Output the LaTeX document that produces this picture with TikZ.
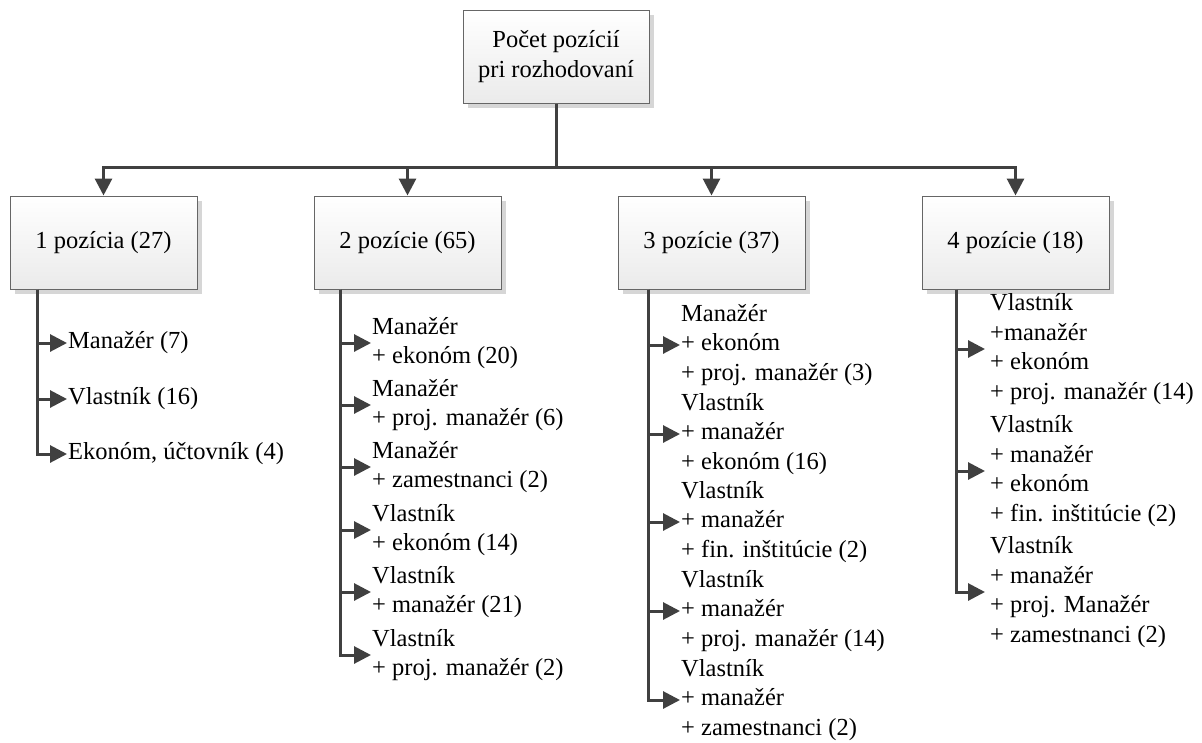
\documentclass[tikz,border=0pt]{standalone}
\usepackage{fontspec}
\setmainfont{Liberation Serif}
\usetikzlibrary{arrows.meta,shadows}
\definecolor{linecol}{HTML}{404040}
\definecolor{boxline}{HTML}{666666}
\definecolor{shadowcol}{HTML}{D6D6D6}
\newcommand\diagfont{\fontsize{24.5}{29.5}\selectfont}
\tikzset{
  box/.style={draw=boxline, line width=1pt, top color=white, bottom color=gray!16,
    minimum width=187pt, minimum height=93pt, align=center, font=\diagfont,
    drop shadow={shadow xshift=4.5pt, shadow yshift=-4.5pt, fill=shadowcol, opacity=1}},
  item/.style={anchor=west, align=left, inner xsep=1pt, inner ysep=0pt, font=\diagfont},
  conn/.style={draw=linecol, line width=3pt, -{Triangle[length=17pt,width=17pt]}},
  plain/.style={draw=linecol, line width=3pt}
}
\begin{document}
\begin{tikzpicture}[x=1pt,y=-1pt]
\useasboundingbox (0,0) rectangle (1202,742);

% root and the four groups
\node[box, minimum width=186pt] (top) at (556,56.5) {Počet pozícií\\pri rozhodovaní};
\node[box] (b1) at (103.5,242.5) {1 pozícia (27)};
\node[box] (b2) at (407.5,242.5) {2 pozície (65)};
\node[box] (b3) at (711.5,242.5) {3 pozície (37)};
\node[box] (b4) at (1015.5,242.5) {4 pozície (18)};

\coordinate (hub) at (556,167);
\draw[plain] (top.south) -- (hub);
\foreach \b in {b1,b2,b3,b4} \draw[conn] (hub) -| (\b.north);

% group 1
\node[item] (c11) at (67,343) {Manažér (7)};
\node[item] (c12) at (67,399) {Vlastník (16)};
\node[item] (c13) at (67,454) {Ekonóm, účtovník (4)};

% group 2
\node[item] (c21) at (371,343) {Manažér\\+ ekonóm (20)};
\node[item] (c22) at (371,405) {Manažér\\+ proj. manažér (6)};
\node[item] (c23) at (371,467) {Manažér\\+ zamestnanci (2)};
\node[item] (c24) at (371,530) {Vlastník\\+ ekonóm (14)};
\node[item] (c25) at (371,592) {Vlastník\\+ manažér (21)};
\node[item] (c26) at (371,655) {Vlastník\\+ proj. manažér (2)};

% group 3
\node[item] (c31) at (680,345) {Manažér\\+ ekonóm\\+ proj. manažér (3)};
\node[item] (c32) at (680,434) {Vlastník\\+ manažér\\+ ekonóm (16)};
\node[item] (c33) at (680,522) {Vlastník\\+ manažér\\+ fin. inštitúcie (2)};
\node[item] (c34) at (680,611) {Vlastník\\+ manažér\\+ proj. manažér (14)};
\node[item] (c35) at (680,700) {Vlastník\\+ manažér\\+ zamestnanci (2)};

% group 4
\node[item, inner xsep=5pt] (c41) at (985,349) {Vlastník\\+manažér\\+ ekonóm\\+ proj. manažér (14)};
\node[item, inner xsep=5pt] (c42) at (985,471) {Vlastník\\+ manažér\\+ ekonóm\\+ fin. inštitúcie (2)};
\node[item, inner xsep=5pt] (c43) at (985,592) {Vlastník\\+ manažér\\+ proj. Manažér\\+ zamestnanci (2)};

% branch connectors
\foreach \c in {c11,c12,c13} \draw[conn] ([xshift=28pt]b1.south west) |- (\c.west);
\foreach \c in {c21,c22,c23,c24,c25,c26} \draw[conn] ([xshift=27pt]b2.south west) |- (\c.west);
\foreach \c in {c31,c32,c33,c34,c35} \draw[conn] ([xshift=31pt]b3.south west) |- (\c.west);
\foreach \c in {c41,c42,c43} \draw[conn] ([xshift=35pt]b4.south west) |- (\c.west);
\end{tikzpicture}
\end{document}
